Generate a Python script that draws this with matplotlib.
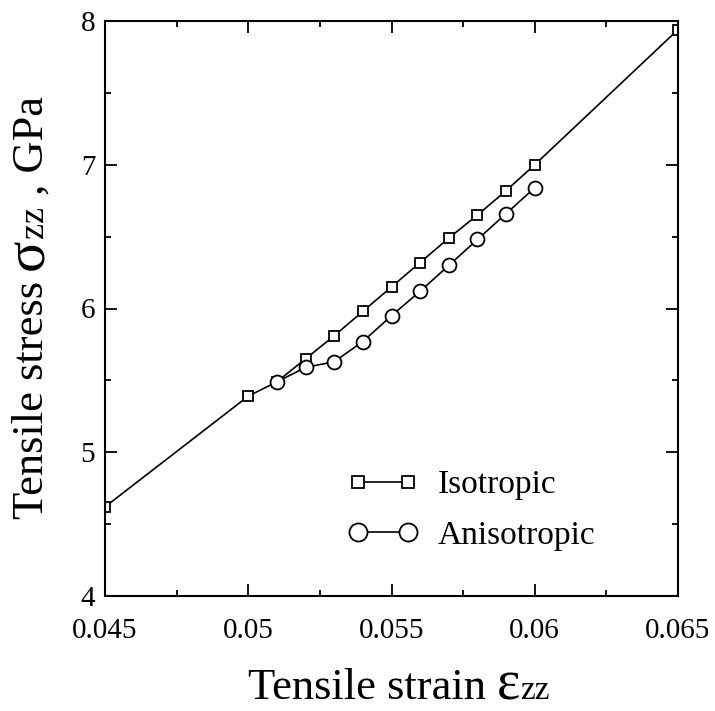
import numpy as np
import matplotlib.pyplot as plt
from matplotlib.ticker import MultipleLocator

plt.rcParams['font.family'] = ['Liberation Serif', 'DejaVu Serif']

# data
strain_iso = [0.045, 0.050, 0.051, 0.052, 0.053, 0.054, 0.055, 0.056, 0.057, 0.058, 0.059, 0.060, 0.065]
stress_iso = [4.62, 5.39, 5.49, 5.65, 5.81, 5.98, 6.15, 6.32, 6.49, 6.65, 6.82, 7.00, 7.94]
strain_ani = [0.051, 0.052, 0.053, 0.054, 0.055, 0.056, 0.057, 0.058, 0.059, 0.060]
stress_ani = [5.49, 5.59, 5.63, 5.77, 5.95, 6.12, 6.30, 6.48, 6.66, 6.84]
xticks = [0.045, 0.05, 0.055, 0.06, 0.065]
xticklabels = ['0.045', '0.05', '0.055', '0.06', '0.065']
yticks = [4, 5, 6, 7, 8]

W, H = 715, 711
fig = plt.figure(figsize=(W / 100, H / 100), dpi=100)
ax = fig.add_axes([105 / W, 1 - 596 / H, 573 / W, 575 / H])

ax.plot(strain_iso, stress_iso, '-s', color='black', lw=1.2, ms=7,
        mfc='white', mec='black', mew=1.3, label='Isotropic')
ax.plot(strain_ani, stress_ani, '-o', color='black', lw=1.2, ms=10,
        mfc='white', mec='black', mew=1.3, label='Anisotropic')

ax.set_xlim(0.045, 0.065)
ax.set_ylim(4, 8)
ax.set_xticks(xticks)
ax.set_xticklabels(xticklabels)
ax.set_yticks(yticks)
ax.xaxis.set_minor_locator(MultipleLocator(0.0025))
ax.yaxis.set_minor_locator(MultipleLocator(0.5))
ax.tick_params(which='both', direction='in', top=True, right=True, width=1.3)
ax.tick_params(which='major', length=8.6, labelsize=21)
ax.tick_params(which='minor', length=4.3)
ax.tick_params(axis='x', which='major', pad=16)
ax.tick_params(axis='y', which='major', pad=7)
for s in ax.spines.values():
    s.set_linewidth(1.5)

leg = ax.legend(loc='upper left', bbox_to_anchor=(348 / W, 1 - 470 / H),
                bbox_transform=fig.transFigure, frameon=False,
                fontsize=24, handlelength=2.1, labelspacing=0.6, handletextpad=0.6,
                borderpad=0, borderaxespad=0, numpoints=2, markerscale=1.3)

# axis labels built from pieces (large greek letter, smaller "zz")
fig.canvas.draw()
r = fig.canvas.get_renderer()

def chain(parts, x0, y0, rotation=0):
    x, y = x0, y0
    for txt, size in parts:
        t = fig.text(x, y, txt, fontsize=size, rotation=rotation,
                     ha='left', va='baseline', rotation_mode='anchor',
                     transform=None)
        bb = t.get_window_extent(r)
        if rotation == 0:
            x += bb.width
        else:
            y += bb.height

chain([('Tensile strain ', 32), ('ε', 40), ('zz', 24)], 248, H - 699)
chain([('Tensile stress ', 32), ('σ', 42), ('zz', 26), (' , GPa', 32)], 43, H - 519, rotation=90)

fig.savefig('out.png', dpi=100)
